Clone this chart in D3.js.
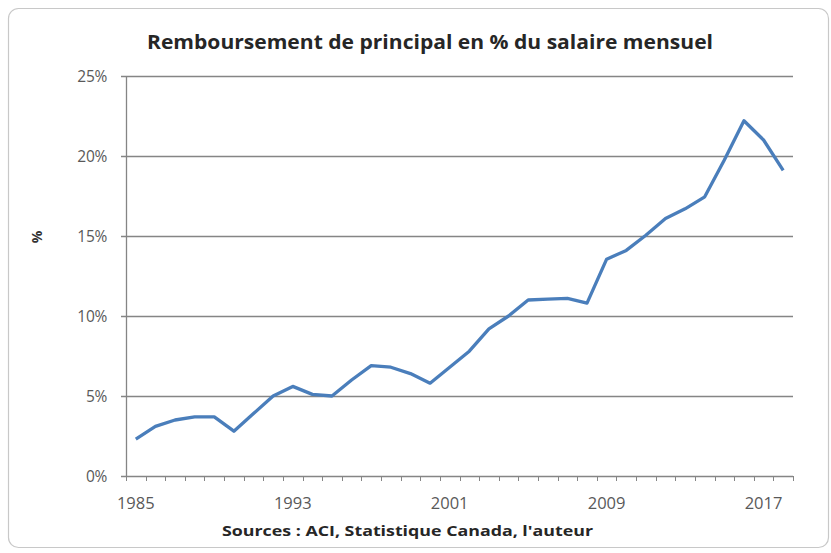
<!DOCTYPE html>
<html><head><meta charset="utf-8">
<script src="https://cdn.jsdelivr.net/npm/d3@7"></script>
<style>html,body{margin:0;padding:0;background:#fff;}</style>
</head><body>
<svg id="c" width="831" height="553"></svg>
<script>
const years = d3.range(1985, 2019);
const values = [2.3,3.1,3.5,3.7,3.7,2.8,3.9,5.0,5.6,5.1,5.0,6.0,6.9,6.8,6.4,5.8,6.8,7.8,9.2,10.0,11.0,11.05,11.1,10.8,13.55,14.1,15.05,16.1,16.7,17.45,19.75,22.2,21.0,19.1];
const yTicks = [0,5,10,15,20,25];
const xLabelYears = [1985,1993,2001,2009,2017];
const title = "Remboursement de principal  en % du salaire mensuel";
const source = "Sources :  ACI, Statistique Canada, l'auteur";

(function(){
const svg = d3.select("#c");
const pL = 126, pR = 793, pT = 76, pB = 476;

svg.append("rect").attr("x",8.5).attr("y",8.5).attr("width",820).attr("height",539)
  .attr("rx",10).attr("fill","#fff").attr("stroke","#c8c8c8").attr("stroke-width",1.2);

const x = d3.scaleBand().domain(years).range([pL, pR]).paddingInner(0).paddingOuter(0);
const y = d3.scaleLinear().domain([0,25]).range([pB, pT]);

svg.append("g").selectAll("line").data(yTicks).join("line")
  .attr("x1", pL-5).attr("x2", pR).attr("y1", d=>Math.round(y(d))+0.5).attr("y2", d=>Math.round(y(d))+0.5)
  .attr("stroke","#858585").attr("stroke-width",1.3);

svg.append("line").attr("x1",pL+0.5).attr("x2",pL+0.5).attr("y1",pT).attr("y2",pB)
  .attr("stroke","#858585").attr("stroke-width",1.3);

const bounds = years.map(d=>x(d)).concat([pR]);
svg.append("g").selectAll("line").data(bounds).join("line")
  .attr("x1",d=>Math.round(d)+0.5).attr("x2",d=>Math.round(d)+0.5).attr("y1",pB).attr("y2",pB+5)
  .attr("stroke","#858585").attr("stroke-width",1);

svg.append("g").selectAll("text").data(yTicks).join("text")
  .attr("x",107).attr("y",d=>y(d)).attr("dy","0.36em").attr("text-anchor","end")
  .attr("font-family","'Open Sans', sans-serif").attr("font-size",15.5).attr("fill","#595959")
  .attr("letter-spacing","-0.3")
  .text(d=>d+"%");

svg.append("g").selectAll("text").data(xLabelYears).join("text")
  .attr("x",d=>x(d)+x.bandwidth()/2).attr("y",503).attr("dy","0.36em").attr("text-anchor","middle")
  .attr("font-family","'Open Sans', sans-serif").attr("font-size",16.5).attr("fill","#595959")
  .attr("letter-spacing","0")
  .text(d=>d);

svg.append("text").attr("transform","translate(42,237) rotate(-90)").attr("text-anchor","middle")
  .attr("font-family","'Open Sans', sans-serif").attr("font-weight","bold").attr("font-size",14).attr("fill","#333")
  .text("%");

svg.append("text").attr("x",147).attr("y",49).attr("textLength",566).attr("lengthAdjust","spacingAndGlyphs")
  .attr("font-family","'Open Sans', sans-serif").attr("font-weight","bold").attr("font-size",20).attr("fill","#262626")
  .text(title);

svg.append("text").attr("x",222).attr("y",536).attr("textLength",371).attr("lengthAdjust","spacingAndGlyphs")
  .attr("font-family","'Open Sans', sans-serif").attr("font-weight","bold").attr("font-size",15).attr("fill","#262626")
  .text(source);

const line = d3.line().x((d,i)=>x(years[i])+x.bandwidth()/2).y(d=>y(d));
svg.append("path").datum(values).attr("d",line).attr("fill","none")
  .attr("stroke","#4a7ebb").attr("stroke-width",3.3).attr("stroke-linejoin","round");
})();
</script>
</body></html>
